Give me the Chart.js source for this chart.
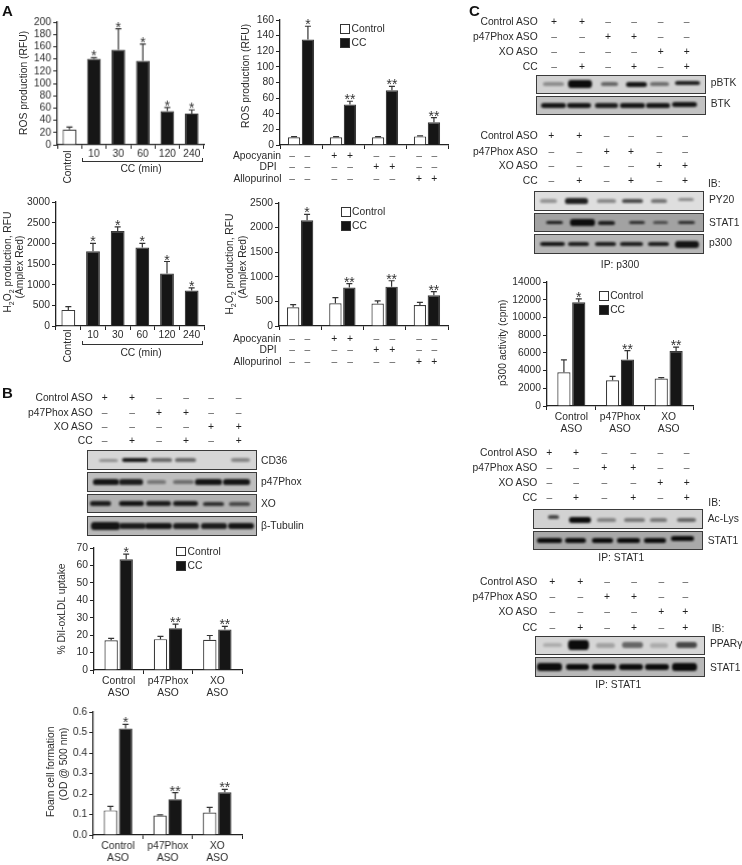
<!DOCTYPE html>
<html>
<head>
<meta charset="utf-8">
<title>ROS, ASO and CC panels</title>
<script src="https://cdn.jsdelivr.net/npm/chart.js@4/dist/chart.umd.min.js"></script>
<style>
  html, body { margin: 0; padding: 0; background: #fff; }
  #page { position: relative; width: 742px; height: 865px; overflow: hidden; background: #fff;
          font-family: "Liberation Sans", Arial, sans-serif; font-size: 10.3px; color: #2b2b2b;
          filter: grayscale(1) blur(0.4px); }
  #page canvas { position: absolute; }
  .txt { position: absolute; white-space: nowrap; line-height: 1; }
  .txt sub { font-size: 7px; line-height: 0; }
  .panel { font-weight: bold; font-size: 15px; color: #111; }
  .box { position: absolute; box-sizing: border-box; width: 10px; height: 9.5px; border: 1.2px solid #333; }
  .blot { position: absolute; box-sizing: border-box; border: 1px solid #3a3a3a; overflow: hidden; }
  .band { position: absolute; background: #0c0c0c; border-radius: 3px / 50%; filter: blur(1px); }
  .ln { position: absolute; background: #333; }
</style>
</head>
<body>
<div id="page"></div>
<script>
// ===== Data =====

const timeLabels = ['Control', '10', '30', '60', '120', '240'];
const rosTime = [25, 140, 155, 137, 55, 51];
const rosTimeErr = [29, 142, 189, 164, 61, 57];
const h2o2Time = [390, 1810, 2300, 1900, 1270, 860];
const h2o2TimeErr = [470, 2000, 2400, 2000, 1560, 920];
const timeStars = ['', '*', '*', '*', '*', '*'];

const inhibitorGroups = ['none', 'Apocyanin', 'DPI', 'Allopurinol'];
const rosControl = [10, 10, 10, 11];
const rosControlErr = [10.6, 10.6, 10.6, 11.6];
const rosCC = [135, 52, 70, 29];
const rosCCErr = [152, 56, 75, 35];
const h2o2Control = [380, 460, 455, 425];
const h2o2ControlErr = [435, 575, 510, 480];
const h2o2CC = [2150, 780, 800, 625];
const h2o2CCErr = [2270, 860, 920, 700];
const inhibitorStars = ['*', '**', '**', '**'];

const asoGroups = [['Control', 'ASO'], ['p47Phox', 'ASO'], ['XO', 'ASO']];
const asoStars = ['*', '**', '**'];
const dilControl = [17, 17.7, 17.3];
const dilControlErr = [18.2, 19.3, 19.8];
const dilCC = [63.5, 24, 23.3];
const dilCCErr = [66.5, 26.3, 25];
const foamControl = [0.12, 0.095, 0.11];
const foamControlErr = [0.14, 0.098, 0.135];
const foamCC = [0.52, 0.175, 0.208];
const foamCCErr = [0.54, 0.207, 0.223];
const p300Control = [3800, 2900, 3100];
const p300ControlErr = [5200, 3350, 3200];
const p300CC = [11700, 5250, 6200];
const p300CCErr = [12100, 6250, 6650];

const inhibitorRows = ['Apocyanin', 'DPI', 'Allopurinol'];
const inhibitorSigns = ['--++----', '----++--', '------++'];
const asoRows = ['Control ASO', 'p47Phox ASO', 'XO ASO', 'CC'];
const asoSigns = ['++----', '--++--', '----++', '-+-+-+'];

const page = document.getElementById('page');
const TICK_FONT = { family: '"Liberation Sans", Arial, sans-serif', size: 10.3 };
const INK = '#2b2b2b';

// ===== Html helpers =====

function text(html, x, y, opts = {}) {
    const el = document.createElement('div');
    el.className = 'txt ' + (opts.cls || '');
    el.innerHTML = html;
    if (opts.color) el.style.color = opts.color;
    page.appendChild(el);

    if (opts.rotate) {
        // even box on whole pixels so the turned text stays sharp
        const w = Math.ceil(el.offsetWidth / 2) * 2;
        el.style.width = w + 'px';
        el.style.height = '12px';
        el.style.lineHeight = '12px';
        el.style.textAlign = 'center';
        el.style.left = (Math.round(x) - w / 2) + 'px';
        el.style.top = (Math.round(y) - 6) + 'px';
        el.style.transform = 'rotate(-90deg)';
        return;
    }
    el.style.left = x + 'px';
    el.style.top = y + 'px';
    const shiftX = opts.align === 'r' ? '-100%' : opts.align === 'l' ? '0' : '-50%';
    el.style.transform = `translate(${shiftX}, -50%)`;
}

function line(x, y, w, h) {
    const el = document.createElement('div');
    el.className = 'ln';
    el.style.cssText = `left:${x}px;top:${y}px;width:${w}px;height:${h}px`;
    page.appendChild(el);
}

function bracket(x1, x2, y) {
    line(x1, y, x2 - x1, 1);
    line(x1, y - 3, 1, 3);
    line(x2 - 1, y - 3, 1, 3);
}

function legend(x, y1, y2) {
    [[y1, '#fff', 'Control'], [y2, '#161616', 'CC']].forEach(([y, fill, name]) => {
        const el = document.createElement('div');
        el.className = 'box';
        el.style.left = x + 'px';
        el.style.top = y + 'px';
        el.style.background = fill;
        page.appendChild(el);
        text(name, x + 11.5, y + 5, { align: 'l' });
    });
}

function signRows(names, signs, ys, cols, rightX) {
    names.forEach((name, r) => {
        text(name, Array.isArray(rightX) ? rightX[r] : rightX, ys[r], { align: 'r' });
        cols.forEach((cx, c) => {
            const plus = signs[r][c] === '+';
            text(plus ? '+' : '–', cx, ys[r], { color: plus ? '#222' : '#555' });
        });
    });
}

// bands: [centre x, width, height, opacity, optional dy]
function blot(x, y, w, h, bg, bands) {
    const el = document.createElement('div');
    el.className = 'blot';
    el.style.cssText = `left:${x}px;top:${y}px;width:${w}px;height:${h}px;background:${bg}`;
    bands.forEach(([cx, bw, bh, op, dy]) => {
        const b = document.createElement('div');
        const tall = bh + 1.2, wide = bw + 1;
        b.className = 'band';
        b.style.cssText = `left:${cx - x - wide / 2}px;top:${h / 2 - tall / 2 + (dy || 0) - 1}px;width:${wide}px;height:${tall}px;opacity:${op}`;
        el.appendChild(b);
    });
    page.appendChild(el);
}

// ===== Error bars and significance marks =====

const errorBars = {
    id: 'errorBars',
    afterDatasetsDraw(chart) {
        const ctx = chart.ctx;
        const yScale = chart.scales.y;
        chart.data.datasets.forEach((ds, i) => {
            const bars = chart.getDatasetMeta(i).data;
            bars.forEach((bar, j) => {
                const top = yScale.getPixelForValue(ds.err[j]);
                const base = yScale.getPixelForValue(ds.data[j]);
                ctx.save();
                ctx.strokeStyle = '#333';
                ctx.lineWidth = 1.2;
                ctx.beginPath();
                ctx.moveTo(bar.x, base);
                ctx.lineTo(bar.x, top);
                ctx.moveTo(bar.x - 3, top);
                ctx.lineTo(bar.x + 3, top);
                ctx.stroke();
                if (ds.stars && ds.stars[j]) {
                    ctx.fillStyle = '#333';
                    ctx.font = '14px "Liberation Sans", Arial, sans-serif';
                    ctx.textAlign = 'center';
                    ctx.textBaseline = 'alphabetic';
                    ctx.fillText(ds.stars[j], bar.x, top + 3);
                }
                ctx.restore();
            });
        });
    }
};

// ===== Chart builder =====

function barChart(area, cfg) {
    const padLeft = 50, padTop = 14, padRight = 8, padBottom = 36;
    const canvas = document.createElement('canvas');
    const width = area.right - area.left + padLeft + padRight;
    const height = area.bottom - area.top + padTop + padBottom;
    canvas.width = width;
    canvas.height = height;
    canvas.style.left = (area.left - padLeft) + 'px';
    canvas.style.top = (area.top - padTop) + 'px';
    canvas.style.width = width + 'px';
    canvas.style.height = height + 'px';
    page.appendChild(canvas);

    return new Chart(canvas.getContext('2d'), {
        type: 'bar',
        data: { labels: cfg.labels, datasets: cfg.datasets },
        options: {
            responsive: false,
            animation: false,
            devicePixelRatio: window.devicePixelRatio || 1,
            layout: { padding: { left: 0, top: padTop, right: padRight, bottom: 0 } },
            plugins: { legend: { display: false }, tooltip: { enabled: false } },
            scales: {
                x: {
                    type: 'category',
                    offset: true,
                    afterFit: s => { s.height = padBottom; },
                    border: { color: '#222', width: 1.3 },
                    grid: { offset: true, drawOnChartArea: false, tickLength: 4, tickColor: '#222', tickWidth: 1 },
                    ticks: {
                        color: INK, font: TICK_FONT, maxRotation: 0, minRotation: 0, autoSkip: false,
                        padding: cfg.xPad === undefined ? 1 : cfg.xPad,
                        callback: cfg.xTick || function (v) { return this.getLabelForValue(v); }
                    }
                },
                y: {
                    min: 0,
                    max: cfg.max,
                    afterFit: s => { s.width = padLeft; },
                    border: { color: '#222', width: 1.3 },
                    grid: { drawOnChartArea: false, tickLength: 4, tickColor: '#222', tickWidth: 1 },
                    ticks: {
                        color: INK, font: TICK_FONT, stepSize: cfg.step, padding: 2, autoSkip: false,
                        callback: cfg.yTick || (v => v)
                    }
                }
            }
        },
        plugins: [errorBars]
    });
}

function timeChart(area, max, step, values, errs) {
    barChart(area, {
        labels: timeLabels, max, step, xPad: -1.5,
        xTick: function (v) { return v === 0 ? '' : timeLabels[v]; },
        datasets: [{
            data: values, err: errs, stars: timeStars,
            backgroundColor: values.map((_, i) => (i === 0 ? '#fff' : '#161616')),
            borderColor: '#3a3a3a', borderWidth: 1.2,
            barPercentage: 0.56, categoryPercentage: 1
        }]
    });
}

function pairedChart(area, labels, max, step, control, controlErr, cc, ccErr, stars, catPct, yTick) {
    barChart(area, {
        labels, max, step, yTick,
        xTick: labels[0] === 'none' ? () => '' : undefined,
        datasets: [
            { data: control, err: controlErr, backgroundColor: '#fff', borderColor: '#3a3a3a', borderWidth: 1.2, barPercentage: 0.89, categoryPercentage: catPct },
            { data: cc, err: ccErr, stars, backgroundColor: '#161616', borderColor: '#3a3a3a', borderWidth: 1.2, barPercentage: 0.89, categoryPercentage: catPct }
        ]
    });
}

// ===== Panel A =====

text('A', 2, 10, { cls: 'panel', align: 'l' });

timeChart({ left: 57, top: 22, right: 203.5, bottom: 144.5 }, 200, 20, rosTime, rosTimeErr);
text('ROS production (RFU)', 24, 83, { rotate: true });
text('Control', 68, 167, { rotate: true });
bracket(81.7, 203.3, 160.5);
text('CC (min)', 141, 169);

pairedChart({ left: 279.5, top: 19.5, right: 448, bottom: 144.5 }, inhibitorGroups, 160, 20, rosControl, rosControlErr, rosCC, rosCCErr, inhibitorStars, 0.66);
text('ROS production (RFU)', 246, 76, { rotate: true });
legend(340, 24.3, 38);
signRows(inhibitorRows, inhibitorSigns, [155.6, 166.8, 179], [292, 307.3, 334.3, 350, 376.3, 392.3, 419, 434.3], [281, 276.7, 281.5]);

timeChart({ left: 56, top: 202, right: 204, bottom: 326 }, 3000, 500, h2o2Time, h2o2TimeErr);
text('H<sub>2</sub>O<sub>2</sub> production, RFU', 8, 262, { rotate: true });
text('(Amplex Red)', 20, 267, { rotate: true });
text('Control', 68, 346, { rotate: true });
bracket(81.7, 203, 343.5);
text('CC (min)', 141, 352.5);

pairedChart({ left: 278.5, top: 202.5, right: 447.5, bottom: 326 }, inhibitorGroups, 2500, 500, h2o2Control, h2o2ControlErr, h2o2CC, h2o2CCErr, inhibitorStars, 0.66);
text('H<sub>2</sub>O<sub>2</sub> production, RFU', 230, 264, { rotate: true });
text('(Amplex Red)', 243, 267, { rotate: true });
legend(340.5, 207, 221);
signRows(inhibitorRows, inhibitorSigns, [339, 350.2, 361.7], [292, 307.3, 334.3, 350, 376.3, 392.3, 419, 434.3], [281, 276.7, 281.5]);

// ===== Panel B =====

text('B', 2, 392, { cls: 'panel', align: 'l' });
signRows(asoRows, asoSigns, [398.3, 412.7, 426.7, 441], [104.7, 132, 159, 186, 211, 238.7], 92.7);

blot(87.3, 450, 169.5, 20, '#d6d6d6', [[108, 18, 1.8, .35], [134, 25, 3.5, .95], [161, 20, 2, .55], [185, 20, 2.5, .55], [240, 18, 2.2, .4]]);
blot(87.3, 472.3, 169.5, 19.5, '#bebebe', [[105, 25, 4, .95], [130, 23, 4, .9], [156, 18, 2.5, .4], [183, 20, 2.8, .45], [208, 26, 4, .95], [236, 26, 4, .95]]);
blot(87.3, 494.3, 169.5, 19, '#b2b2b2', [[100, 20, 3.5, .9], [131, 24, 4, .95], [158, 24, 4, .9], [185, 24, 4, .9], [213, 20, 2.5, .8], [239, 20, 2.5, .65]]);
blot(87.3, 516.3, 169.5, 19.5, '#b8b8b8', [[105, 28, 6, .95], [132, 26, 5, .9], [158, 26, 5.5, .95], [185, 25, 4.5, .9], [213, 25, 4.5, .9], [240, 25, 5, .95]]);
text('CD36', 261, 461, { align: 'l' });
text('p47Phox', 261, 482, { align: 'l' });
text('XO', 261, 504.3, { align: 'l' });
text('β-Tubulin', 261, 525.7, { align: 'l' });

pairedChart({ left: 93.5, top: 547.7, right: 241.7, bottom: 670.5 }, asoGroups, 70, 10, dilControl, dilControlErr, dilCC, dilCCErr, asoStars, 0.61);
text('% DiI-oxLDL uptake', 62, 609, { rotate: true });
legend(176, 546.7, 561);

pairedChart({ left: 93, top: 712.3, right: 241.7, bottom: 835.5 }, asoGroups, 0.6, 0.1, foamControl, foamControlErr, foamCC, foamCCErr, asoStars, 0.61, v => v.toFixed(1));
text('Foam cell formation', 51, 772, { rotate: true });
text('(OD @ 500 nm)', 64, 764, { rotate: true });

// ===== Panel C =====

text('C', 469, 10, { cls: 'panel', align: 'l' });

signRows(asoRows, asoSigns, [21.7, 37.3, 52.3, 67.3], [554, 582, 608, 634, 660.7, 686.7], 537.7);
blot(536, 74.7, 170, 19.3, '#d2d2d2', [[552, 20, 2.5, .35], [578.5, 23, 7, 1], [608, 16, 2.5, .55], [635, 20, 4, .95], [658.5, 18, 2.5, .5], [686, 24, 3, .9, -1]]);
blot(536, 95.7, 170, 19.3, '#c2c2c2', [[552, 24, 4, .95], [578, 23, 3.6, .95], [605, 22, 3.5, .9], [631, 24, 3.5, .95], [657, 23, 3.5, .95], [683, 24, 4, .95, -1]]);
text('pBTK', 710.7, 83.3, { align: 'l' });
text('BTK', 710.7, 104, { align: 'l' });

signRows(asoRows, asoSigns, [136.3, 151.7, 166.3, 181.3], [551.3, 579.3, 606.7, 631, 659.3, 685], 537.7);
text('IB:', 708, 183.7, { align: 'l' });
blot(534.3, 191.3, 170, 19.4, '#dedede', [[548, 16, 3, .35], [576, 22, 4, .9], [606, 18, 2.5, .4], [632, 20, 3, .7], [658, 15, 2.5, .5], [685, 15, 2, .4, -1.5]]);
blot(534.3, 213, 170, 19.3, '#a2a2a2', [[554, 16, 2.5, .9], [582, 24, 5.5, 1], [606, 16, 3, .9], [636, 15, 2.5, .8], [660, 14, 1.8, .6], [686, 16, 2.5, .8]]);
blot(534.3, 234.3, 170, 19.7, '#b6b6b6', [[552, 24, 3.2, .95], [578, 20, 3, .9], [605, 20, 3, .9], [631, 22, 3, .9], [658, 20, 3, .9], [686, 23, 6, .95]]);
text('PY20', 709, 200, { align: 'l' });
text('STAT1', 709, 222.7, { align: 'l' });
text('p300', 709, 242.7, { align: 'l' });
text('IP: p300', 620, 265);

pairedChart({ left: 546.7, top: 282.3, right: 693.5, bottom: 406.5 }, asoGroups, 14000, 2000, p300Control, p300ControlErr, p300CC, p300CCErr, asoStars, 0.61);
text('p300 activity (cpm)', 503, 343, { rotate: true });
legend(598.7, 291, 305);

signRows(asoRows, asoSigns, [453.3, 468.3, 482.7, 497.7], [549.3, 576, 604.3, 633.3, 660.3, 686.7], 537.3);
text('IB:', 708.3, 503.3, { align: 'l' });
blot(533.3, 509.3, 170, 19.4, '#d2d2d2', [[553, 10, 2.5, .7, -2], [579, 21, 5.5, 1, 1], [606, 18, 2, .4, 1], [634, 20, 2.8, .45, 1.5], [658, 16, 2, .45, 1], [686, 18, 2.2, .55, 1]]);
blot(533.3, 531, 170, 19, '#a9a9a9', [[549, 24, 3.5, 1], [575, 20, 4, 1], [602, 20, 3.5, 1], [628, 22, 3.5, 1], [654, 21, 3.5, 1], [682, 22, 3.5, 1, -2]]);
text('Ac-Lys', 707.7, 519.3, { align: 'l' });
text('STAT1', 707.7, 540.7, { align: 'l' });
text('IP: STAT1', 621.3, 558.3);

signRows(asoRows, asoSigns, [582.3, 597.3, 612.3, 627.7], [552.3, 580.3, 607, 634, 661.3, 685.3], 537.3);
text('IB:', 711.7, 629.3, { align: 'l' });
blot(534.7, 635.7, 170, 19.3, '#d6d6d6', [[552, 18, 2.5, .2], [578, 20, 9, 1], [605, 18, 4, .25], [632, 20, 5, .55], [658, 17, 3.5, .2], [686, 20, 5, .7]]);
blot(534.7, 657.3, 170, 19.4, '#b8b8b8', [[549, 24, 6, 1], [577, 22, 5.5, 1], [603, 23, 5, 1], [630, 23, 5, 1], [656, 23, 5, 1], [684, 24, 6, 1]]);
text('PPARγ', 710, 644, { align: 'l' });
text('STAT1', 710, 667.7, { align: 'l' });
text('IP: STAT1', 618.3, 685);
</script>
</body>
</html>
